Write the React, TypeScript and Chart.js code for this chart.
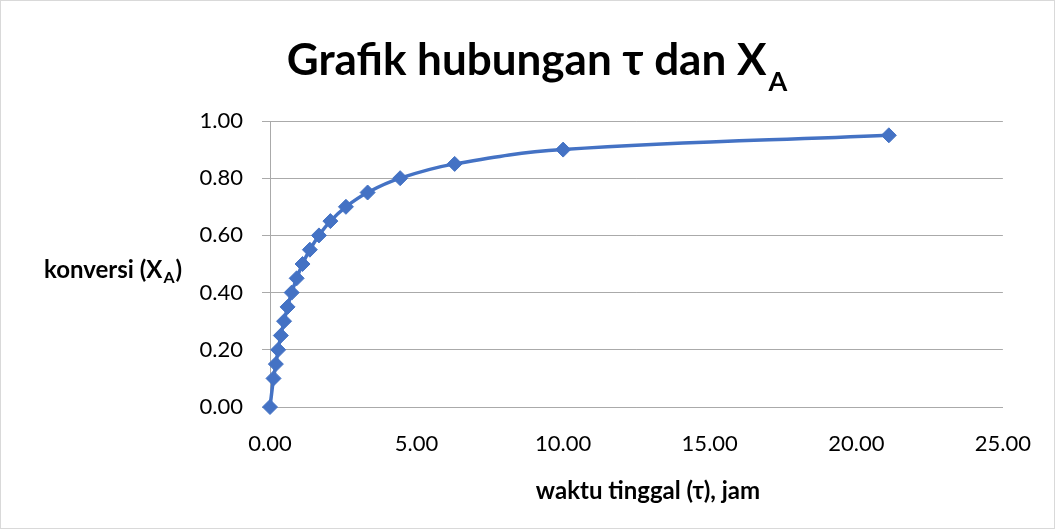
import React, { useEffect, useRef } from "react";
import { Chart, registerables } from "chart.js";

Chart.register(...registerables);

const conversion = [0, 0.1, 0.15, 0.2, 0.25, 0.3, 0.35, 0.4, 0.45, 0.5, 0.55, 0.6, 0.65, 0.7, 0.75, 0.8, 0.85, 0.9, 0.95];
const residenceTime = [0, 0.12, 0.2, 0.28, 0.37, 0.48, 0.6, 0.74, 0.91, 1.11, 1.36, 1.67, 2.06, 2.59, 3.33, 4.44, 6.3, 10.0, 21.11];

const titleMain = "Grafik hubungan τ dan X";
const titleSub = "A";
const yTitleMain = "konversi (X";
const yTitleSub = "A";
const yTitleEnd = ")";
const xTitle = "waktu tinggal (τ), jam";

const FONT = "Lato, 'Open Sans', sans-serif";
const LINE_COLOR = "#4472C4";
const GRID_COLOR = "#aaaaaa";

const labelsPlugin = {
  id: "customLabels",
  afterDraw(chart: any) {
    const ctx = chart.ctx as CanvasRenderingContext2D;
    ctx.save();
    ctx.fillStyle = "#000";
    ctx.textBaseline = "alphabetic";
    ctx.textAlign = "left";

    // Title
    ctx.font = `bold 44px ${FONT}`;
    const wMain = ctx.measureText(titleMain).width;
    ctx.font = `bold 27px ${FONT}`;
    const wSub = ctx.measureText(titleSub).width;
    const total = wMain + wSub + 2;
    const tx = 537 - total / 2;
    ctx.font = `bold 44px ${FONT}`;
    ctx.fillText(titleMain, tx, 75);
    ctx.font = `bold 27px ${FONT}`;
    ctx.fillText(titleSub, tx + wMain + 2, 91);

    // Y title
    ctx.font = `bold 24px ${FONT}`;
    const y1 = ctx.measureText(yTitleMain).width;
    ctx.fillText(yTitleMain, 44, 278);
    ctx.font = `bold 16px ${FONT}`;
    const y2 = ctx.measureText(yTitleSub).width;
    ctx.fillText(yTitleSub, 44 + y1 + 1, 283);
    ctx.font = `bold 24px ${FONT}`;
    ctx.fillText(yTitleEnd, 44 + y1 + y2 + 2, 278);

    // X title
    ctx.font = `bold 24px ${FONT}`;
    ctx.textAlign = "center";
    ctx.fillText(xTitle, 648, 499);

    // outer border
    ctx.strokeStyle = "#d9d9d9";
    ctx.lineWidth = 1;
    ctx.strokeRect(0.5, 0.5, chart.width - 1, chart.height - 1);
    ctx.restore();
  },
};

export default function App() {
  const ref = useRef<HTMLCanvasElement | null>(null);
  useEffect(() => {
    document.body.style.margin = "0";
    const canvas = ref.current;
    if (!canvas) return;
    const points = residenceTime.map((t, i) => ({ x: t, y: conversion[i] }));
    const chart = new Chart(canvas, {
      type: "scatter",
      data: {
        datasets: [
          {
            data: points,
            showLine: true,
            clip: false,
            borderColor: LINE_COLOR,
            backgroundColor: LINE_COLOR,
            borderWidth: 3.5,
            tension: 0.4,
            pointStyle: "rectRot",
            pointRadius: 7.5,
            pointBorderWidth: 1,
            pointBackgroundColor: LINE_COLOR,
            pointBorderColor: LINE_COLOR,
          },
        ],
      },
      options: {
        animation: false,
        responsive: true,
        maintainAspectRatio: false,
        layout: { padding: { top: 121, right: 50, left: 0, bottom: 0 } },
        plugins: {
          legend: { display: false },
          title: { display: false },
          tooltip: { enabled: false },
        },
        scales: {
          x: {
            type: "linear",
            min: 0,
            max: 25,
            ticks: {
              stepSize: 5,
              padding: 24,
              color: "#000",
              font: { family: FONT, size: 22 },
              callback: (v: any) => Number(v).toFixed(2),
            },
            grid: { display: false, drawTicks: false },
            border: { display: true, color: GRID_COLOR, width: 1 },
            afterFit: (scale: any) => {
              scale.height = 529 - 407;
            },
          },
          y: {
            type: "linear",
            min: 0,
            max: 1,
            ticks: {
              stepSize: 0.2,
              padding: 19,
              color: "#000",
              font: { family: FONT, size: 22 },
              callback: (v: any) => Number(v).toFixed(2),
            },
            grid: { color: GRID_COLOR, drawTicks: true, tickLength: 8, lineWidth: 1 },
            border: { display: true, color: GRID_COLOR, width: 1 },
            afterFit: (scale: any) => {
              scale.width = 270;
            },
          },
        },
      },
      plugins: [labelsPlugin],
    });
    return () => chart.destroy();
  }, []);
  return (
    <div style={{ width: 1055, height: 529, position: "relative" }}>
      <canvas ref={ref} />
    </div>
  );
}
